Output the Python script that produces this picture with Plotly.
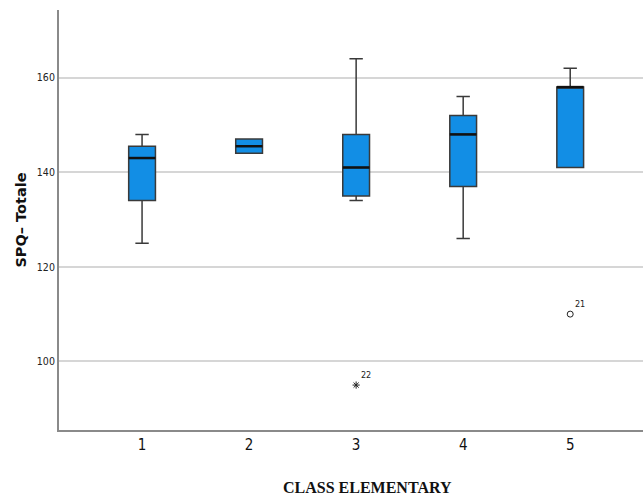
import plotly.graph_objects as go

classes = [1, 2, 3, 4, 5]
lower_whisker = [125, 144, 134, 126, 141]
q1 = [134, 144, 135, 137, 141]
median = [143, 145.5, 141, 148, 158]
q3 = [145.5, 147, 148, 152, 158]
upper_whisker = [148, 147, 164, 156, 162]

outlier_x = [5, 3]
outlier_y = [110, 95]
outlier_case = ["21", "22"]
outlier_symbol = ["circle-open", "asterisk-open"]

tick_vals = [100, 120, 140, 160]

BOX_W = 0.25
fig = go.Figure()

fig.add_trace(go.Box(
    x=classes, q1=q1, median=median, q3=q3,
    lowerfence=lower_whisker, upperfence=upper_whisker,
    width=BOX_W, whiskerwidth=0.5,
    fillcolor="#128EE5",
    line=dict(color="#3a3a3a", width=1.5),
    boxpoints=False, hoverinfo="skip", showlegend=False,
))

# thicker median lines
mx, my = [], []
for c, m in zip(classes, median):
    mx += [c - BOX_W / 2, c + BOX_W / 2, None]
    my += [m, m, None]
fig.add_trace(go.Scatter(x=mx, y=my, mode="lines",
                         line=dict(color="#111111", width=2.5),
                         showlegend=False, hoverinfo="skip"))

fig.add_trace(go.Scatter(
    x=outlier_x, y=outlier_y, mode="markers+text",
    marker=dict(symbol=outlier_symbol, size=6, color="#222222",
                line=dict(color="#222222", width=1)),
    text=outlier_case, textposition="top right",
    textfont=dict(family="DejaVu Sans Condensed, DejaVu Sans", size=9, color="#222222"),
    showlegend=False, hoverinfo="skip", cliponaxis=False,
))

fig.update_layout(
    width=643, height=499,
    margin=dict(l=59, r=0, t=10, b=69),
    paper_bgcolor="white", plot_bgcolor="white",
    xaxis=dict(range=[0.224, 5.68], tickvals=classes,
               ticktext=[str(c) for c in classes],
               tickfont=dict(family="DejaVu Sans Condensed, DejaVu Sans", size=15, color="#111"),
               showgrid=False, zeroline=False,
               showline=True, linecolor="#8a8a8a", linewidth=2,
               ticks="", ticklen=0),
    yaxis=dict(range=[85.5, 174.3], tickvals=tick_vals,
               tickfont=dict(family="DejaVu Sans Condensed, DejaVu Sans", size=10.5, color="#222"),
               showgrid=True, gridcolor="#d6d6d6", gridwidth=1.5,
               zeroline=False, showline=True, linecolor="#8a8a8a", linewidth=2,
               ticks="", ticklen=0,
               title=dict(text="<b>SPQ– Totale</b>", standoff=7,
                          font=dict(family="DejaVu Sans", size=14.5, color="#111"))),
    annotations=[dict(text="<b>CLASS ELEMENTARY</b>", xref="paper", yref="paper",
                      x=(367 - 59) / 584, y=-(487 - 430) / 420, showarrow=False,
                      xanchor="center", yanchor="middle",
                      font=dict(family="Liberation Serif", size=16, color="#111"))],
)

fig.write_html("out.html", config={"displayModeBar": False},
               post_script="document.body.style.margin='0';document.body.style.overflow='hidden';")
